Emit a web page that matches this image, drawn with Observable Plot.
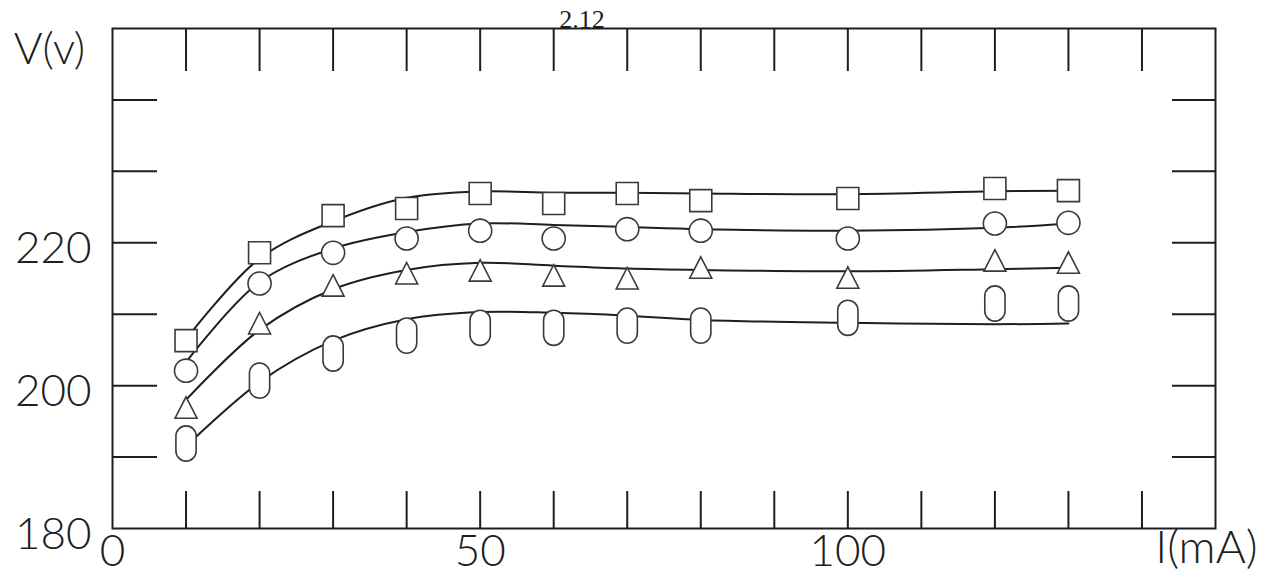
<!DOCTYPE html>
<html>
<head>
<meta charset="utf-8">
<script src="https://cdn.jsdelivr.net/npm/d3@7"></script>
<script src="https://cdn.jsdelivr.net/npm/@observablehq/plot@0.6"></script>
<style>
  html, body { margin: 0; padding: 0; background: #fff; }
  #chart { width: 1278px; height: 588px; overflow: hidden; }
</style>
</head>
<body>
<div id="chart"></div>
<script>
// Load current I (mA) at which each output voltage was measured
const currents = [10, 20, 30, 40, 50, 60, 70, 80, 100, 120, 130];

// Measured output voltage V (v), one series per marker shape
const vSquare   = [206.3, 218.6, 223.8, 224.8, 226.9, 225.5, 226.9, 225.9, 226.2, 227.6, 227.3];
const vCircle   = [202.1, 214.3, 218.6, 220.6, 221.7, 220.6, 221.9, 221.7, 220.6, 222.7, 222.8];
const vTriangle = [196.9, 208.7, 214.0, 215.7, 216.1, 215.4, 215.0, 216.5, 215.1, 217.5, 217.2];
const vOval     = [191.9, 200.7, 204.5, 207.0, 208.1, 208.1, 208.4, 208.4, 209.5, 211.5, 211.5];

// Hand-fitted smooth curves through each series
const fitSquare   = [206.5, 217.8, 223.0, 226.3, 227.2, 227.0, 227.0, 226.9, 226.8, 227.2, 227.3];
const fitCircle   = [203.3, 214.5, 219.2, 221.5, 222.7, 222.5, 222.2, 221.9, 221.7, 222.1, 222.7];
const fitTriangle = [198.0, 207.8, 213.5, 216.2, 217.2, 216.8, 216.4, 216.2, 216.0, 216.3, 216.5];
const fitOval     = [191.5, 200.5, 206.3, 209.3, 210.3, 210.2, 209.8, 209.2, 208.8, 208.6, 208.7];

// Axis ticks and labels
const xTickVals  = [10, 20, 30, 40, 50, 60, 70, 80, 90, 100, 110, 120, 130, 140];
const yTickVals  = [190, 200, 210, 220, 230, 240];
const xLabelVals = [0, 50, 100];
const yLabelVals = [180, 200, 220];
const yTitle = "V(v)";
const xTitle = "I(mA)";
const figNumber = "2.12";

const rows = ys => currents.map((x, i) => ({x, y: ys[i]}));

// Marker outlines, scaled from the dot radius
const squareSym = {draw(ctx, size) {
  const k = Math.sqrt(size / Math.PI);
  ctx.rect(-k, -k, 2 * k, 2 * k);
}};
const circleSym = {draw(ctx, size) {
  const k = Math.sqrt(size / Math.PI) * 1.05;
  ctx.moveTo(k, 0);
  ctx.arc(0, 0, k, 0, 2 * Math.PI);
}};
const triangleSym = {draw(ctx, size) {
  const k = Math.sqrt(size / Math.PI);
  ctx.moveTo(0, -k);
  ctx.lineTo(k, 0.95 * k);
  ctx.lineTo(-k, 0.95 * k);
  ctx.closePath();
}};
const stadiumSym = {draw(ctx, size) {
  const k = Math.sqrt(size / Math.PI);
  const w = 0.92 * k, h = 1.6 * k;
  ctx.moveTo(w, -h + w);
  ctx.arc(0, -h + w, w, 0, Math.PI, true);
  ctx.lineTo(-w, h - w);
  ctx.arc(0, h - w, w, Math.PI, 0, true);
  ctx.closePath();
}};

const ink = "#1e1e1e";
const markerInk = "#3a3a3a";
const font = "Lato, 'Open Sans', 'DejaVu Sans', sans-serif";

const series = [
  [vSquare, fitSquare, squareSym],
  [vCircle, fitCircle, circleSym],
  [vTriangle, fitTriangle, triangleSym],
  [vOval, fitOval, stadiumSym]
];

const marks = [
  // tick marks pointing into the frame on all four sides
  Plot.ruleX(xTickVals, {x: d => d, insetBottom: 457, stroke: ink, strokeWidth: 2}),
  Plot.ruleX(xTickVals, {x: d => d, insetTop: 463, stroke: ink, strokeWidth: 2}),
  Plot.ruleY(yTickVals, {y: d => d, insetRight: 1058, stroke: ink, strokeWidth: 2}),
  Plot.ruleY(yTickVals, {y: d => d, insetLeft: 1060, stroke: ink, strokeWidth: 2}),
  Plot.frame({stroke: ink, strokeWidth: 2})
];

for (const [vals, fit] of series) {
  marks.push(Plot.line(rows(fit), {x: "x", y: "y", curve: "catmull-rom", stroke: ink, strokeWidth: 2}));
}
for (const [vals, fit, sym] of series) {
  marks.push(Plot.dot(rows(vals), {x: "x", y: "y", symbol: sym, r: 11, fill: "white", stroke: markerInk, strokeWidth: 1.6}));
}

marks.push(
  Plot.text(xLabelVals, {x: d => d, text: d => String(d), frameAnchor: "bottom", dy: 37, fontSize: 44, fontWeight: 300, fill: ink}),
  Plot.text(yLabelVals, {y: d => d, text: d => String(d), frameAnchor: "left", textAnchor: "end", dx: -21, dy: 6, fontSize: 44, fontWeight: 300, fill: ink}),
  Plot.text([yTitle], {text: d => d, frameAnchor: "top-left", textAnchor: "middle", dx: -63, dy: 4, fontSize: 44, fontWeight: 300, fill: ink}),
  Plot.text([xTitle], {text: d => d, frameAnchor: "bottom-right", textAnchor: "middle", dx: -9, dy: 34, fontSize: 46, fontWeight: 300, fill: ink}),
  Plot.text([figNumber], {text: d => d, frameAnchor: "top", dx: -82, dy: -19, fontSize: 26, fontFamily: "'Liberation Serif', 'DejaVu Serif', serif", fill: ink})
);

const chart = Plot.plot({
  width: 1278,
  height: 588,
  marginLeft: 112,
  marginRight: 63,
  marginTop: 28,
  marginBottom: 60,
  x: {domain: [0, 150], axis: null},
  y: {domain: [180, 250], axis: null},
  style: {fontFamily: font, background: "white", overflow: "visible"},
  marks
});

document.getElementById("chart").appendChild(chart);
</script>
</body>
</html>
